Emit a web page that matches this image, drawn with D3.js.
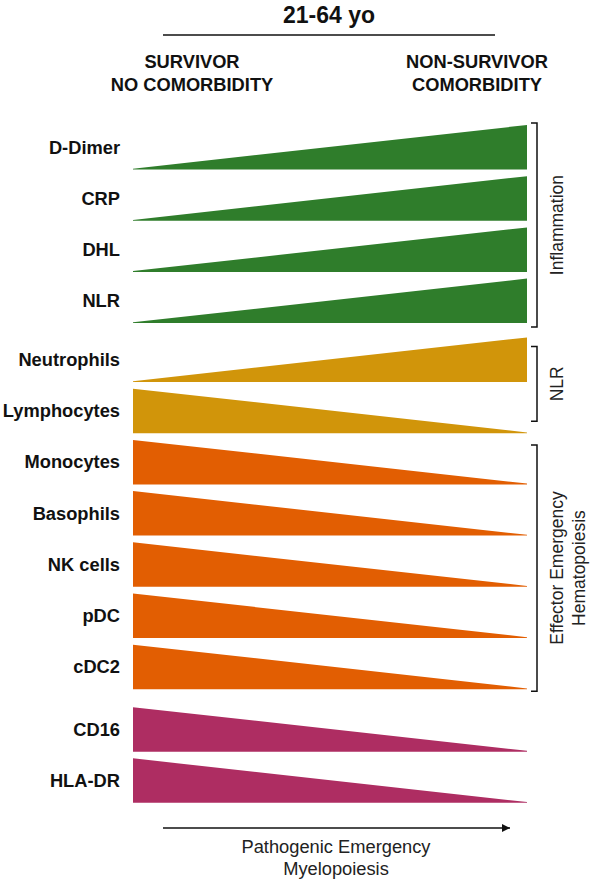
<!DOCTYPE html>
<html>
<head>
<meta charset="utf-8">
<script src="https://cdn.jsdelivr.net/npm/d3@7"></script>
<style>
  html, body { margin: 0; padding: 0; background: #fff; }
  svg { display: block; font-family: "Liberation Sans", Arial, sans-serif; }
</style>
</head>
<body>
<svg id="chart" width="597" height="886"></svg>
<script>
// ---------- data ----------
const title = "21-64 yo";
const leftHeader = ["SURVIVOR", "NO COMORBIDITY"];
const rightHeader = ["NON-SURVIVOR", "COMORBIDITY"];
const markers = ["D-Dimer", "CRP", "DHL", "NLR", "Neutrophils", "Lymphocytes",
  "Monocytes", "Basophils", "NK cells", "pDC", "cDC2", "CD16", "HLA-DR"];
// relative level at survivor side (left) and non-survivor side (right)
const startLevel = [0, 0, 0, 0, 0, 1, 1, 1, 1, 1, 1, 1, 1];
const endLevel   = [1, 1, 1, 1, 1, 0, 0, 0, 0, 0, 0, 0, 0];
const markerGroup = ["Inflammation", "Inflammation", "Inflammation", "Inflammation",
  "NLR", "NLR", "Effector", "Effector", "Effector", "Effector", "Effector",
  "Myeloid", "Myeloid"];
const groups = ["Inflammation", "NLR", "Effector", "Myeloid"];
const bracketGroups = ["Inflammation", "NLR", "Effector"];
const bracketLabels = [["Inflammation"], ["NLR"], ["Effector Emergency", "Hematopoiesis"]];
const axisLabel = ["Pathogenic Emergency", "Myelopoiesis"];

// ---------- layout ----------
const svg = d3.select("#chart");
const colors = d3.scaleOrdinal().domain(groups)
  .range(["#2f7d2b", "#d1950a", "#e25e02", "#ae2d62"]);
const groupGap = { Inflammation: 0, NLR: 0.15, Effector: 0.15, Myeloid: 0.37 };

// slot index per row, with extra gap before some groups
const slots = markers.map((m, i) => i + groupGap[markerGroup[i]]);
const pitch = 51.2, rowH = 44.5, firstTop = 125;
const yTop = d3.scaleLinear().domain([0, 1]).range([firstTop, firstTop + pitch]);
const x = d3.scaleLinear().domain([0, 1]).range([133, 527]);
const h = d3.scaleLinear().domain([0, 1]).range([0.8, rowH]);

const rows = markers.map((m, i) => ({
  name: m, s: startLevel[i], e: endLevel[i], g: markerGroup[i],
  top: yTop(slots[i]), bottom: yTop(slots[i]) + rowH
}));

// triangles
svg.append("g").selectAll("path").data(rows).join("path")
  .attr("d", d => {
    const p = d3.path();
    p.moveTo(x(0), d.bottom);
    p.lineTo(x(0), d.bottom - h(d.s));
    p.lineTo(x(1), d.bottom - h(d.e));
    p.lineTo(x(1), d.bottom);
    p.closePath();
    return p.toString();
  })
  .attr("fill", d => colors(d.g));

// row labels
svg.append("g").selectAll("text").data(rows).join("text")
  .attr("x", 120)
  .attr("y", d => d.bottom - 16)
  .attr("text-anchor", "end")
  .attr("font-size", 18.3)
  .attr("font-weight", "bold")
  .attr("fill", "#111")
  .text(d => d.name);

// header
svg.append("text").attr("x", 329).attr("y", 23).attr("text-anchor", "middle")
  .attr("font-size", 23).attr("font-weight", "bold").attr("fill", "#111").text(title);
svg.append("line").attr("x1", 163).attr("x2", 495).attr("y1", 35).attr("y2", 35)
  .attr("stroke", "#111").attr("stroke-width", 1.6);
leftHeader.forEach((t, i) => svg.append("text").attr("x", 192).attr("y", 68 + i * 23)
  .attr("text-anchor", "middle").attr("font-size", 18.3).attr("font-weight", "bold")
  .attr("fill", "#111").text(t));
rightHeader.forEach((t, i) => svg.append("text").attr("x", 477).attr("y", 68 + i * 23)
  .attr("text-anchor", "middle").attr("font-size", 18.3).attr("font-weight", "bold")
  .attr("fill", "#111").text(t));

// brackets
const bracketInset = [[-2, 4], [9, -12], [5, 2]];
const bx = 537, tick = 6;
bracketGroups.forEach((g, k) => {
  const rs = rows.filter(r => r.g === g);
  const y0 = rs[0].top + bracketInset[k][0];
  const y1 = rs[rs.length - 1].bottom + bracketInset[k][1];
  svg.append("path")
    .attr("d", `M${bx - tick},${y0}H${bx}V${y1}H${bx - tick}`)
    .attr("fill", "none").attr("stroke", "#111").attr("stroke-width", 1.5);
  const cy = (y0 + y1) / 2;
  const lines = bracketLabels[k];
  lines.forEach((t, j) => {
    const cx = 557 + j * 22;
    svg.append("text")
      .attr("transform", `translate(${cx},${cy}) rotate(-90)`)
      .attr("text-anchor", "middle").attr("dominant-baseline", "central")
      .attr("font-size", 17.5).attr("fill", "#222").text(t);
  });
});

// bottom arrow
svg.append("defs").append("marker").attr("id", "arr")
  .attr("viewBox", "0 0 10 10").attr("refX", 10).attr("refY", 5)
  .attr("markerWidth", 8).attr("markerHeight", 8).attr("markerUnits", "userSpaceOnUse")
  .attr("orient", "auto")
  .append("path").attr("d", "M0,0L10,5L0,10Z").attr("fill", "#111");
svg.append("line").attr("x1", x(0) + 30).attr("x2", 510).attr("y1", 828).attr("y2", 828)
  .attr("stroke", "#111").attr("stroke-width", 1.6).attr("marker-end", "url(#arr)");
axisLabel.forEach((t, i) => svg.append("text").attr("x", 336).attr("y", 853 + i * 22)
  .attr("text-anchor", "middle").attr("font-size", 18.3).attr("fill", "#222").text(t));
</script>
</body>
</html>
